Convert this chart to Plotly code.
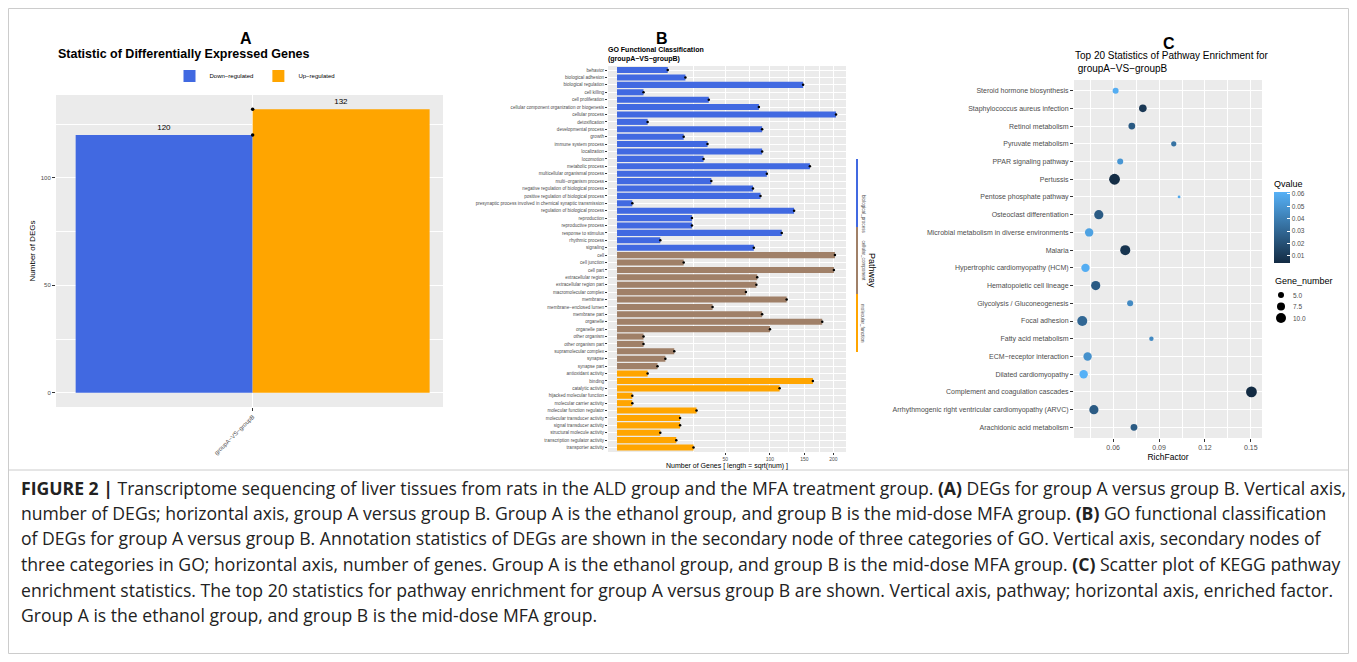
import numpy as np
import plotly.graph_objects as go

# Page has an 8 px body margin; figure is sized to fit inside the window.
OFF = 8
FW, FH = 1341, 646
FONT = "Liberation Sans"
GRAY_TXT = "#4D4D4D"
PANEL_BG = "#EBEBEB"

# ---------------- Panel A data ----------------
deg_group = ["groupA\u2212VS\u2212groupB"]
deg_down = [120]
deg_up = [132]

# ---------------- Panel B data ----------------
bp_terms = ["behavior", "biological adhesion", "biological regulation", "cell killing",
            "cell proliferation", "cellular component organization or biogenesis",
            "cellular process", "detoxification", "developmental process", "growth",
            "immune system process", "localization", "locomotion", "metabolic process",
            "multicellular organismal process", "multi\u2212organism process",
            "negative regulation of biological process",
            "positive regulation of biological process",
            "presynaptic process involved in chemical synaptic transmission",
            "regulation of biological process", "reproduction", "reproductive process",
            "response to stimulus", "rhythmic process", "signaling"]
bp_counts = [11, 20, 148, 3, 36, 86, 205, 4, 90, 19, 35, 90, 32, 159, 96, 38, 79, 88, 1,
             134, 24, 24, 116, 8, 80]
cc_terms = ["cell", "cell junction", "cell part", "extracellular region",
            "extracellular region part", "macromolecular complex", "membrane",
            "membrane\u2212enclosed lumen", "membrane part", "organelle", "organelle part",
            "other organism", "other organism part", "supramolecular complex", "synapse",
            "synapse part"]
cc_counts = [203, 19, 201, 84, 83, 71, 123, 39, 90, 180, 100, 3, 3, 14, 10, 7]
mf_terms = ["antioxidant activity", "binding", "catalytic activity",
            "hijacked molecular function", "molecular carrier activity",
            "molecular function regulator", "molecular transducer activity",
            "signal transducer activity", "structural molecule activity",
            "transcription regulator activity", "transporter activity"]
mf_counts = [4, 164, 113, 1, 1, 27, 17, 17, 8, 15, 25]
go_ticks = [50, 100, 150, 200]
go_minor = [25, 75, 125, 175]
go_class_names = ["biological_process", "cellular_component", "molecular_function"]

# ---------------- Panel C data ----------------
kegg_pathways = ["Steroid hormone biosynthesis", "Staphylococcus aureus infection",
                 "Retinol metabolism", "Pyruvate metabolism", "PPAR signaling pathway",
                 "Pertussis", "Pentose phosphate pathway", "Osteoclast differentiation",
                 "Microbial metabolism in diverse environments", "Malaria",
                 "Hypertrophic cardiomyopathy (HCM)", "Hematopoietic cell lineage",
                 "Glycolysis / Gluconeogenesis", "Focal adhesion", "Fatty acid metabolism",
                 "ECM\u2212receptor interaction", "Dilated cardiomyopathy",
                 "Complement and coagulation cascades",
                 "Arrhythmogenic right ventricular cardiomyopathy (ARVC)",
                 "Arachidonic acid metabolism"]
kegg_richfactor = [0.0616, 0.0794, 0.0722, 0.0996, 0.0646, 0.0609, 0.1031, 0.0506, 0.0443,
                   0.0679, 0.0419, 0.0486, 0.0711, 0.0398, 0.0850, 0.0433, 0.0407, 0.1504,
                   0.0474, 0.0736]
kegg_qvalue = [0.060, 0.010, 0.025, 0.035, 0.050, 0.005, 0.058, 0.025, 0.055, 0.008,
               0.060, 0.025, 0.045, 0.030, 0.045, 0.048, 0.062, 0.004, 0.025, 0.025]
kegg_genes = [5, 7, 6, 4, 5, 11, 1, 9, 8, 10, 8, 9, 5, 10, 3, 8, 8, 11, 9, 6]
rich_ticks = [0.06, 0.09, 0.12, 0.15]
q_ticks = [0.01, 0.02, 0.03, 0.04, 0.05, 0.06]
gene_legend = [5.0, 7.5, 10.0]


def gx(px):
    return (px - OFF) / FW


def gy(py):
    return 1 - (py - OFF) / FH


def dot_size(n):
    return 2 + 0.8 * np.asarray(n, dtype=float)


fig = go.Figure()

# ================= Panel A =================
fig.add_trace(go.Bar(x=deg_group, y=deg_down, name="Down\u2212regulated", marker_color="#4169E1",
                     marker_line_width=0, width=0.45, offset=-0.45, xaxis="x", yaxis="y",
                     text=deg_down, textposition="outside", textfont=dict(size=8, color="black"),
                     cliponaxis=False, legend="legend"))
fig.add_trace(go.Bar(x=deg_group, y=deg_up, name="Up\u2212regulated", marker_color="#FFA500",
                     marker_line_width=0, width=0.45, offset=0.0, xaxis="x", yaxis="y",
                     text=deg_up, textposition="outside", textfont=dict(size=8, color="black"),
                     cliponaxis=False, legend="legend"))
fig.add_trace(go.Scatter(x=deg_group * 2, y=deg_down + deg_up, mode="markers",
                         marker=dict(color="black", size=3.5), showlegend=False,
                         xaxis="x", yaxis="y", cliponaxis=False))

# ================= Panel B =================
go_terms = bp_terms + cc_terms + mf_terms
go_counts = bp_counts + cc_counts + mf_counts
go_colors = (["#4169E1"] * len(bp_terms) + ["#A08068"] * len(cc_terms)
             + ["#FFA500"] * len(mf_terms))
go_len = np.sqrt(np.array(go_counts, dtype=float))
fig.add_trace(go.Bar(x=go_len, y=go_terms, orientation="h", marker_color=go_colors,
                     marker_line_width=0, width=0.82, xaxis="x2", yaxis="y2",
                     showlegend=False))
fig.add_trace(go.Scatter(x=go_len, y=go_terms, mode="markers",
                         marker=dict(color="black", size=2.5), showlegend=False,
                         xaxis="x2", yaxis="y2"))

# ================= Panel C =================
fig.add_trace(go.Scatter(
    x=kegg_richfactor, y=kegg_pathways, mode="markers", xaxis="x3", yaxis="y3",
    showlegend=False,
    marker=dict(size=dot_size(kegg_genes), sizemode="diameter", color=kegg_qvalue,
                colorscale=[[0, "#132B43"], [1, "#56B1F7"]], cmin=0.0043, cmax=0.0616,
                line_width=0, opacity=1, showscale=True,
                colorbar=dict(x=gx(1274), xanchor="left", y=gy(177), yanchor="top",
                              len=86, lenmode="pixels", thickness=16,
                              thicknessmode="pixels", outlinewidth=0, xpad=0, ypad=0,
                              tickvals=q_ticks, ticktext=[f"{v:.2f}" for v in q_ticks],
                              ticks="inside", tickcolor="white", ticklen=3,
                              tickfont=dict(size=6.5, color=GRAY_TXT, family=FONT),
                              title=dict(text="Qvalue", side="top",
                                         font=dict(size=9, color="black", family=FONT))))))

# ================= Axes =================
tick_common = dict(ticks="outside", ticklen=3, tickcolor="#333333", tickwidth=1,
                   showline=False, zeroline=False, gridcolor="white")

fig.update_layout(
    # A
    xaxis=dict(domain=[gx(56), gx(443)], anchor="y", type="category", range=[-0.5, 0.484],
               tickangle=-45, tickfont=dict(size=6, color=GRAY_TXT), showgrid=True,
               gridwidth=1.2, **tick_common),
    yaxis=dict(domain=[gy(407), gy(95)], anchor="x", range=[-6.6, 138.6],
               tickvals=[0, 50, 100], tickfont=dict(size=6, color=GRAY_TXT), showgrid=True,
               gridwidth=1.2, minor=dict(tickvals=[25, 75, 125], showgrid=True,
                                         gridcolor="white", gridwidth=0.6, ticks=""),
               title=dict(text="Number of DEGs", font=dict(size=8, color="black"), standoff=3),
               **tick_common),
    # B
    xaxis2=dict(domain=[gx(608), gx(846)], anchor="y2", range=[-0.59, 14.97],
                tickvals=np.sqrt(go_ticks), ticktext=[str(t) for t in go_ticks],
                tickfont=dict(size=5, color=GRAY_TXT), showgrid=True, gridwidth=0.9,
                minor=dict(tickvals=np.sqrt(go_minor), showgrid=True, gridcolor="white",
                           gridwidth=0.5, ticks=""),
                title=dict(text="Number of Genes [ length = sqrt(num) ]",
                           font=dict(size=7, color="black"), standoff=2),
                **{**tick_common, "ticklen": 2}),
    yaxis2=dict(domain=[gy(452), gy(66)], anchor="x2", type="category",
                categoryorder="array", categoryarray=go_terms,
                range=[len(go_terms) - 1 + 0.6, -0.55],
                tickfont=dict(size=4.6, color=GRAY_TXT), showgrid=True, gridwidth=0.8,
                **{**tick_common, "ticklen": 2}),
    # C
    xaxis3=dict(domain=[gx(1074), gx(1262)], anchor="y3", range=[0.0344, 0.1573],
                tickvals=rich_ticks, ticktext=[f"{t:.2f}" for t in rich_ticks],
                tickfont=dict(size=7, color=GRAY_TXT), showgrid=True, gridwidth=1,
                minor=dict(tickvals=[0.045, 0.075, 0.105, 0.135], showgrid=True,
                           gridcolor="white", gridwidth=0.5, ticks=""),
                title=dict(text="RichFactor", font=dict(size=8.5, color="black"), standoff=3),
                **tick_common),
    yaxis3=dict(domain=[gy(438), gy(80)], anchor="x3", type="category",
                categoryorder="array", categoryarray=kegg_pathways[::-1],
                range=[-0.6, len(kegg_pathways) - 1 + 0.6],
                tickfont=dict(size=7, color=GRAY_TXT), showgrid=True, gridwidth=1,
                **tick_common),
)

# ================= Annotations & shapes =================
ann = []
shapes = []
for letter, x, y in [("A", 238, 28), ("B", 662, 28), ("C", 1177, 33)]:
    ann.append(dict(text=f"<b>{letter}</b>", x=gx(x), y=gy(y), xref="paper", yref="paper",
                    showarrow=False, font=dict(size=16, color="black", family=FONT)))
ann.append(dict(text="<b>Statistic of Differentially Expressed Genes</b>", x=gx(56), y=gy(54),
                xref="paper", yref="paper", xanchor="left", yanchor="middle", showarrow=False,
                font=dict(size=12.5, color="black", family=FONT)))
ann.append(dict(text="<b>GO Functional Classification<br>(groupA\u2212VS\u2212groupB)</b>",
                x=gx(606), y=gy(54), xref="paper", yref="paper", xanchor="left",
                yanchor="middle", align="left", showarrow=False,
                font=dict(size=7, color="black", family=FONT)))
ann.append(dict(text="Top 20 Statistics of Pathway Enrichment for<br> groupA\u2212VS\u2212groupB",
                x=gx(1073), y=gy(62), xref="paper", yref="paper", xanchor="left",
                yanchor="middle", align="left", showarrow=False,
                font=dict(size=10, color="black", family=FONT)))

# Panel B side strip
ann.append(dict(text="Pathway", x=gx(872), y=gy(270), xref="paper", yref="paper",
                textangle=90, showarrow=False, font=dict(size=9, color="black", family=FONT)))
strip_segments = [(159, 227, "#4169E1"), (227, 294, "#A08068"), (294, 352, "#FFA500")]
for (y0, y1, col), name in zip(strip_segments, go_class_names):
    shapes.append(dict(type="line", xref="paper", yref="paper", x0=gx(857), x1=gx(857),
                       y0=gy(y0), y1=gy(y1), line=dict(color=col, width=2)))
    ann.append(dict(text=name, x=gx(863), y=gy((y0 + y1) / 2), xref="paper", yref="paper",
                    textangle=90, showarrow=False,
                    font=dict(size=4.6, color=GRAY_TXT, family=FONT)))

# Gene_number size legend (panel C)
ann.append(dict(text="Gene_number", x=gx(1273), y=gy(281), xref="paper", yref="paper",
                xanchor="left", yanchor="middle", showarrow=False,
                font=dict(size=9, color="black", family=FONT)))
for i, g in enumerate(gene_legend):
    cy = 295 + i * 11.5
    r = float(dot_size(g)) / 2
    shapes.append(dict(type="circle", xref="paper", yref="paper", x0=gx(1281 - r),
                       x1=gx(1281 + r), y0=gy(cy + r), y1=gy(cy - r),
                       fillcolor="black", line=dict(width=0)))
    ann.append(dict(text=f"{g:.1f}", x=gx(1291), y=gy(cy), xref="paper", yref="paper",
                    xanchor="left", yanchor="middle", showarrow=False,
                    font=dict(size=6.5, color=GRAY_TXT, family=FONT)))

# Caption
caption_lines = [
    "<b>FIGURE 2 |</b> Transcriptome sequencing of liver tissues from rats in the ALD group and the MFA treatment group. <b>(A)</b> DEGs for group A versus group B. Vertical axis,",
    "number of DEGs; horizontal axis, group A versus group B. Group A is the ethanol group, and group B is the mid-dose MFA group. <b>(B)</b> GO functional classification",
    "of DEGs for group A versus group B. Annotation statistics of DEGs are shown in the secondary node of three categories of GO. Vertical axis, secondary nodes of",
    "three categories in GO; horizontal axis, number of genes. Group A is the ethanol group, and group B is the mid-dose MFA group. <b>(C)</b> Scatter plot of KEGG pathway",
    "enrichment statistics. The top 20 statistics for pathway enrichment for group A versus group B are shown. Vertical axis, pathway; horizontal axis, enriched factor.",
    "Group A is the ethanol group, and group B is the mid-dose MFA group.",
]
caption_y = [488, 513, 538, 564, 590, 615]
for line, y in zip(caption_lines, caption_y):
    ann.append(dict(text=line, x=gx(19), y=gy(y), xref="paper", yref="paper", xanchor="left",
                    yanchor="middle", showarrow=False,
                    font=dict(size=17.6, color="#222222", family="Open Sans")))

# Frame
shapes.append(dict(type="rect", xref="paper", yref="paper", x0=gx(8.5), x1=gx(1348.5),
                   y0=gy(653.5), y1=gy(8.5), line=dict(color="#CCCCCC", width=1)))
shapes.append(dict(type="line", xref="paper", yref="paper", x0=gx(8.5), x1=gx(1348.5),
                   y0=gy(470), y1=gy(470), line=dict(color="#CCCCCC", width=1)))

fig.update_layout(
    width=FW, height=FH, margin=dict(l=0, r=0, t=0, b=0),
    paper_bgcolor="white", plot_bgcolor=PANEL_BG,
    font=dict(family=FONT, color="black"),
    barmode="overlay",
    annotations=ann, shapes=shapes,
    legend=dict(orientation="h", x=gx(255), xanchor="center", y=gy(76), yanchor="middle",
                font=dict(size=6, color="black"), bgcolor="rgba(0,0,0,0)", itemwidth=30,
                traceorder="normal"),
)

fig.write_html("out.html")
